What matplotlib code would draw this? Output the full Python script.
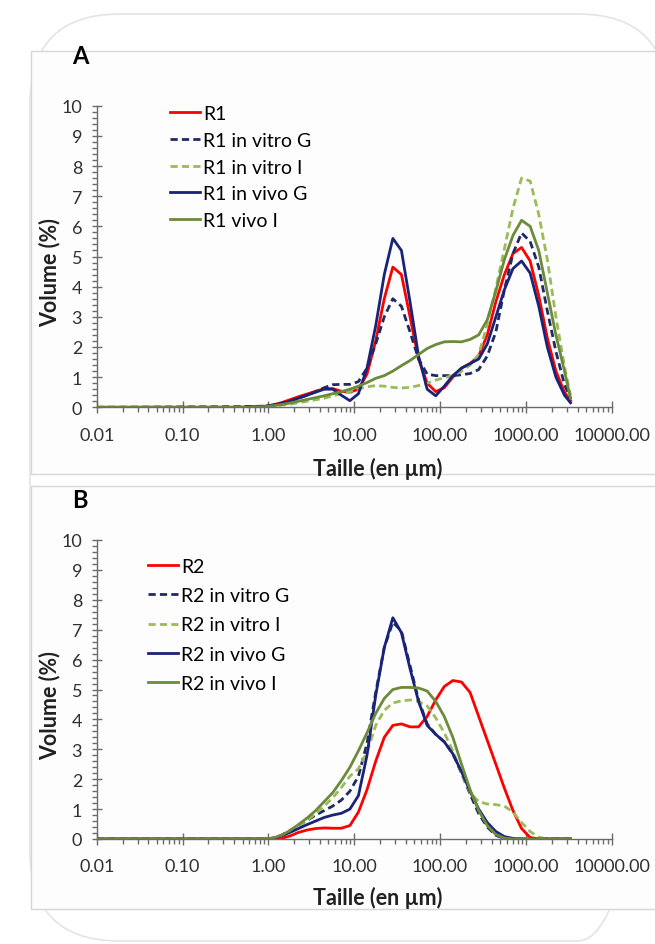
import matplotlib.pyplot as plt
from matplotlib.patches import FancyBboxPatch, Rectangle
from matplotlib.ticker import LogLocator, MultipleLocator, FixedLocator, FixedFormatter, NullFormatter

plt.rcParams['font.family'] = ['Lato', 'DejaVu Sans']

# particle size classes (µm)
sizes = [0.01, 0.447, 0.562, 0.708, 0.891, 1.12, 1.41, 1.78, 2.24, 2.82, 3.55,
         4.47, 5.62, 7.08, 8.91, 11.2, 14.1, 17.8, 22.4, 28.2, 35.5,
         44.7, 56.2, 70.8, 89.1, 112, 141, 178, 224, 282, 355,
         447, 562, 708, 891, 1122, 1413, 1778, 2239, 2818, 3311]

# panel A (volume %)
r1 = [0, 0, 0, 0.01, 0.03, 0.08, 0.15, 0.25, 0.35, 0.44, 0.53,
      0.62, 0.62, 0.53, 0.5, 0.6, 1.1, 2.2, 3.6, 4.65, 4.4,
      3.0, 1.6, 0.8, 0.52, 0.65, 1.0, 1.3, 1.45, 1.7, 2.4,
      3.5, 4.4, 5.1, 5.3, 4.85, 3.7, 2.3, 1.2, 0.5, 0.22]
r1_vitro_g = [0, 0.02, 0.03, 0.03, 0.04, 0.07, 0.13, 0.2, 0.3, 0.4, 0.52,
              0.65, 0.75, 0.76, 0.76, 0.85, 1.3, 2.1, 3.0, 3.6, 3.35,
              2.5, 1.6, 1.1, 1.05, 1.05, 1.05, 1.08, 1.12, 1.25, 1.7,
              2.5, 3.9, 5.1, 5.78, 5.5, 4.65, 3.2, 1.85, 0.75, 0.3]
r1_vitro_i = [0, 0, 0, 0.01, 0.02, 0.04, 0.07, 0.1, 0.15, 0.2, 0.25,
              0.3, 0.38, 0.45, 0.52, 0.6, 0.68, 0.72, 0.7, 0.66, 0.64,
              0.66, 0.72, 0.8, 0.9, 0.98, 1.05, 1.2, 1.4, 1.75, 2.75,
              3.95, 5.25, 6.6, 7.6, 7.5, 6.4, 4.9, 3.0, 1.35, 0.4]
r1_vivo_g = [0, 0, 0.01, 0.02, 0.03, 0.06, 0.12, 0.2, 0.3, 0.4, 0.5,
             0.6, 0.6, 0.4, 0.22, 0.45, 1.3, 2.7, 4.4, 5.6, 5.2,
             3.5, 1.7, 0.6, 0.38, 0.7, 1.05, 1.3, 1.45, 1.6, 2.1,
             3.0, 3.9, 4.6, 4.85, 4.45, 3.35, 2.0, 1.0, 0.4, 0.15]
r1_vivo_i = [0, 0, 0, 0.01, 0.02, 0.05, 0.09, 0.14, 0.2, 0.26, 0.32,
             0.38, 0.45, 0.52, 0.6, 0.7, 0.82, 0.96, 1.05, 1.2, 1.38,
             1.55, 1.75, 1.95, 2.08, 2.17, 2.18, 2.17, 2.25, 2.4, 2.9,
             3.85, 4.9, 5.7, 6.2, 6.0, 5.2, 3.8, 2.4, 1.2, 0.3]

# panel B (volume %)
r2 = [0, 0, 0, 0, 0, 0, 0.02, 0.1, 0.22, 0.3, 0.35,
      0.37, 0.36, 0.36, 0.45, 0.9, 1.65, 2.6, 3.4, 3.8, 3.85,
      3.75, 3.75, 4.1, 4.65, 5.1, 5.3, 5.25, 4.9, 4.1, 3.3,
      2.5, 1.7, 0.95, 0.35, 0.05, 0, 0, 0, 0, 0]
r2_vitro_g = [0, 0, 0, 0, 0, 0.03, 0.12, 0.28, 0.45, 0.62, 0.8,
              0.95, 1.1, 1.3, 1.6, 2.1, 3.2, 4.9, 6.4, 7.25, 6.95,
              5.8, 4.65, 3.85, 3.5, 3.25, 2.85, 2.2, 1.5, 0.85, 0.4,
              0.12, 0.02, 0, 0, 0, 0, 0, 0, 0, 0]
r2_vitro_i = [0, 0, 0, 0, 0, 0.02, 0.1, 0.25, 0.42, 0.62, 0.85,
              1.1, 1.38, 1.72, 2.1, 2.35, 2.9, 3.8, 4.3, 4.55, 4.62,
              4.65, 4.6, 4.45, 4.05, 3.55, 2.95, 2.2, 1.55, 1.25, 1.17,
              1.15, 1.1, 0.9, 0.55, 0.25, 0.06, 0, 0, 0, 0]
r2_vivo_g = [0, 0, 0, 0, 0, 0.02, 0.1, 0.22, 0.35, 0.48, 0.6,
             0.72, 0.8, 0.86, 1.0, 1.45, 2.8, 4.8, 6.4, 7.4, 6.9,
             5.7, 4.6, 3.8, 3.5, 3.25, 2.85, 2.25, 1.6, 1.0, 0.55,
             0.25, 0.08, 0.02, 0, 0, 0, 0, 0, 0, 0]
r2_vivo_i = [0, 0, 0, 0, 0, 0.03, 0.12, 0.28, 0.48, 0.7, 0.95,
             1.25, 1.55, 1.95, 2.4, 2.95, 3.55, 4.2, 4.7, 5.0, 5.07,
             5.07, 5.05, 4.95, 4.6, 4.1, 3.4, 2.5, 1.65, 0.95, 0.45,
             0.15, 0.03, 0, 0, 0, 0, 0, 0, 0, 0]

labels_a = ['R1', 'R1 in vitro G', 'R1 in vitro I', 'R1 in vivo G', 'R1 vivo I']
labels_b = ['R2', 'R2 in vitro G', 'R2 in vitro I', 'R2 in vivo G', 'R2 in vivo I']
xtick_vals = [0.01, 0.1, 1, 10, 100, 1000, 10000]
xtick_labels = ['0.01', '0.10', '1.00', '10.00', '100.00', '1000.00', '10000.00']

colors = ['#ff0000', '#1f2a63', '#9bbb59', '#1a237a', '#6b8a3a']
dashed = [False, True, True, False, False]

W, H = 655, 945
fig = plt.figure(figsize=(6.55, 9.45), dpi=100)

# background: rounded frame and the two chart areas, in pixel units
bg = fig.add_axes([0, 0, 1, 1], zorder=-10)
bg.set_xlim(0, W)
bg.set_ylim(H, 0)
bg.axis('off')
bg.add_patch(FancyBboxPatch((30, 15), 638, 927, boxstyle='round,pad=0,rounding_size=90',
                            fill=False, edgecolor='#e4e4e4', lw=1.2))
for top, bot in [(52, 475), (487, 910)]:
    bg.add_patch(Rectangle((31, top), 640, bot - top, facecolor='#fdfdfd',
                           edgecolor='#d6d6d6', lw=1.0))


def draw_panel(ax, series, labels, legend_anchor, labelspacing, xlab_y):
    for ys, lab, c, d in zip(series, labels, colors, dashed):
        if d:
            ax.plot(sizes, ys, color=c, lw=2.0, dashes=(2.6, 1.5), label=lab,
                    dash_joinstyle='round')
        else:
            ax.plot(sizes, ys, color=c, lw=2.0, label=lab, solid_joinstyle='round')
    ax.set_xscale('log')
    ax.set_xlim(0.01, 10000)
    ax.set_ylim(0, 10)
    ax.set_facecolor('none')
    for s in ['top', 'right']:
        ax.spines[s].set_visible(False)
    for s in ['left', 'bottom']:
        ax.spines[s].set_color('#6b6b6b')
        ax.spines[s].set_linewidth(1.0)
    ax.xaxis.set_major_locator(FixedLocator(xtick_vals))
    ax.xaxis.set_major_formatter(FixedFormatter(xtick_labels))
    ax.xaxis.set_minor_locator(LogLocator(base=10, subs=range(2, 10), numticks=20))
    ax.xaxis.set_minor_formatter(NullFormatter())
    ax.yaxis.set_major_locator(MultipleLocator(1))
    ax.yaxis.set_minor_locator(MultipleLocator(0.2))
    ax.tick_params(axis='x', which='major', direction='inout', length=8, width=1,
                   color='#6b6b6b', labelsize=13, labelcolor='#303030', pad=10)
    ax.tick_params(axis='x', which='minor', direction='out', length=3.5, width=1,
                   color='#6b6b6b')
    ax.tick_params(axis='y', which='major', direction='inout', length=7, width=1,
                   color='#6b6b6b', labelsize=13, labelcolor='#303030', pad=7)
    ax.tick_params(axis='y', which='minor', direction='out', length=3.5, width=1,
                   color='#6b6b6b')
    ax.set_ylabel('Volume (%)', fontsize=15.5, fontweight='bold', color='#202020')
    ax.yaxis.set_label_coords(-0.071, 0.45)
    ax.set_xlabel('Taille (en µm)', fontsize=15.5, fontweight='bold', color='#202020')
    ax.xaxis.set_label_coords(0.546, xlab_y)
    ax.legend(loc='upper left', bbox_to_anchor=legend_anchor, frameon=False,
              fontsize=14, handlelength=1.55, handletextpad=0.15,
              labelspacing=labelspacing, borderpad=0, borderaxespad=0)


ax1 = fig.add_axes([96.7 / W, 1 - 408.3 / H, 515 / W, 301.6 / H])
draw_panel(ax1, [r1, r1_vitro_g, r1_vitro_i, r1_vivo_g, r1_vivo_i], labels_a,
           (0.142, 1.002), 0.5, -0.163)
ax2 = fig.add_axes([96.7 / W, 1 - 840 / H, 515 / W, 299 / H])
draw_panel(ax2, [r2, r2_vitro_g, r2_vitro_i, r2_vivo_g, r2_vivo_i], labels_b,
           (0.0996, 0.94), 0.63, -0.158)

fig.text(80 / W, 1 - 57 / H, 'A', fontsize=17, fontweight='bold', ha='center', va='center')
fig.text(80 / W, 1 - 501 / H, 'B', fontsize=17, fontweight='bold', ha='center', va='center')

fig.savefig('out.png', dpi=100)
